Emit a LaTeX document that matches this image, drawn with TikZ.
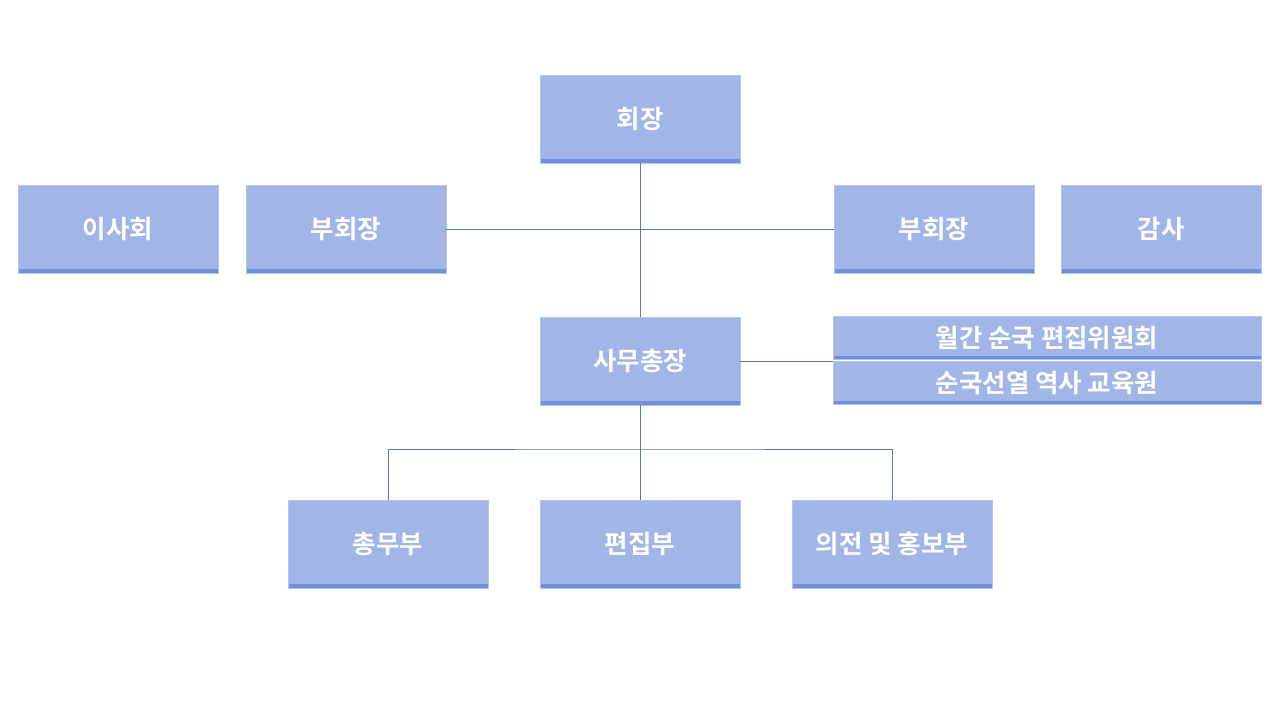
\documentclass[tikz,border=0pt]{standalone}
\usepackage{fontspec}
\newfontfamily\kor{Noto Sans CJK KR}[BoldFont={* Bold}]
\usetikzlibrary{positioning}
\definecolor{boxfill}{HTML}{A2B5E7}
\definecolor{boxedge}{HTML}{6F8FD9}
\definecolor{linkcol}{HTML}{5477B8}
\tikzset{
  unit/.style={fill=boxfill, draw=boxfill!80!white, line width=0.3pt,
    minimum width=4cm, minimum height=1.76cm, inner sep=0pt,
    text=white, font=\kor\bfseries\fontsize{14.5}{16}\selectfont,
    path picture={\fill[boxedge] ([yshift=0.08cm]path picture bounding box.south west) rectangle (path picture bounding box.south east);}},
  wide/.style={unit, minimum width=8.56cm, minimum height=0.86cm},
  link/.style={draw=linkcol, line width=0.5pt}
}
\begin{document}
\begin{tikzpicture}[x=0.02cm, y=-0.02cm]
  \useasboundingbox (0,0) rectangle (1280,720);
  \node[unit] (pres) at (640,119) {회장};
  \node[unit] (board) at (118,229) {이사회};
  \node[unit] (vpl) at (346,229) {부회장};
  \node[unit] (vpr) at (934,229) {부회장};
  \node[unit] (audit) at (1161,229) {감사};
  \node[unit] (sec) at (640,361) {사무총장};
  \node[wide] (comm) at (1047,338) {월간 순국 편집위원회};
  \node[wide] (edu) at (1047,383) {순국선열 역사 교육원};
  \node[unit] (gen) at (388,544) {총무부};
  \node[unit] (edit) at (640,544) {편집부};
  \node[unit] (pr) at (892,544) {의전 및 홍보부};
  \coordinate (mid) at (640,219);
  \coordinate (fork) at (640,449);
  \begin{scope}[link]
    \draw (pres) -- (sec);
    \draw (vpl) -- (vpr);
    \draw (sec.east) -- (edu.north west |- sec.east);
    \draw (sec) -- (edit);
    \draw (gen.north) |- (fork) -| (pr.north);
  \end{scope}
\end{tikzpicture}
\end{document}
